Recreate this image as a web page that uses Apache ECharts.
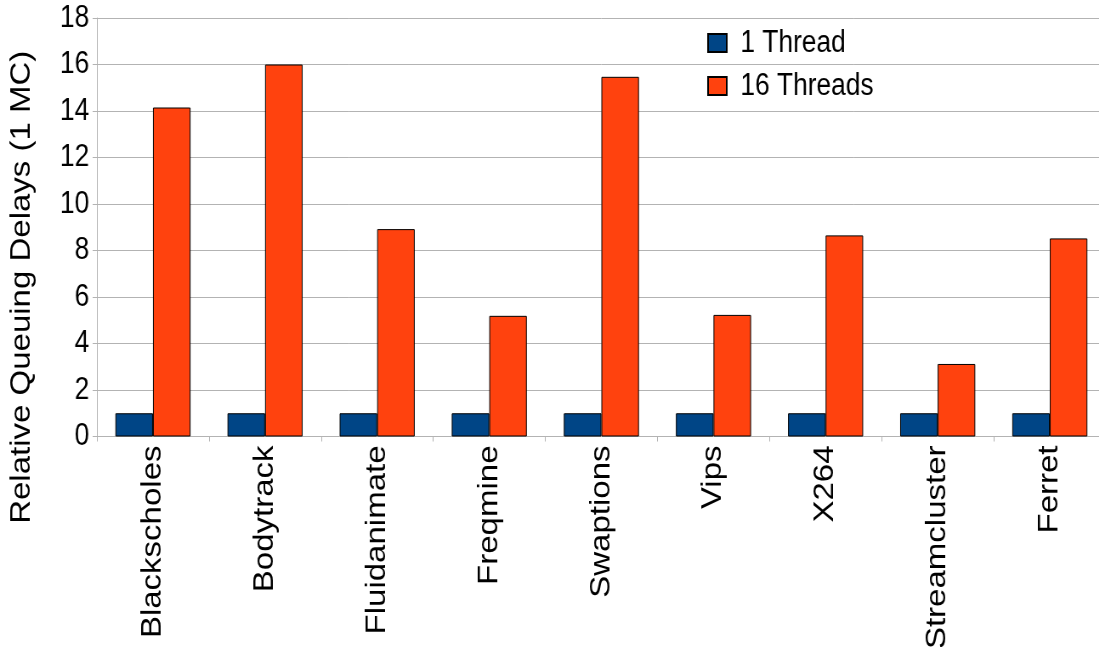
<!DOCTYPE html>
<html>
<head>
<meta charset="utf-8">
<script src="https://cdn.jsdelivr.net/npm/echarts@6/dist/echarts.min.js"></script>
<style>
  html, body { margin: 0; padding: 0; background: #fff; overflow: hidden; }
  #wrap { width: 1099px; height: 647px; overflow: hidden; }
  #c { width: 1320px; height: 647px; transform: scaleX(0.85); transform-origin: 0 0; }
</style>
</head>
<body>
<div id="wrap"><div id="c"></div></div>
<script>
const categories = ['Blackscholes', 'Bodytrack', 'Fluidanimate', 'Freqmine', 'Swaptions', 'Vips', 'X264', 'Streamcluster', 'Ferret'];
const oneThread = [1, 1, 1, 1, 1, 1, 1, 1, 1];
const sixteenThreads = [14.15, 16.0, 8.92, 5.19, 15.47, 5.23, 8.65, 3.12, 8.52];
const seriesNames = ['1 Thread', '16 Threads'];
const yAxisTitle = 'Relative Queuing Delays (1 MC)';

const FONT = '"Liberation Sans", Arial, sans-serif';
const chart = echarts.init(document.getElementById('c'));
chart.setOption({
  animation: false,
  backgroundColor: '#ffffff',
  textStyle: { fontFamily: FONT },
  grid: { left: 114, top: 18, width: 1187, bottom: 210.5, containLabel: false, outerBoundsMode: 'none' },
  legend: {
    orient: 'vertical',
    left: 832, top: 27.5,
    padding: 0,
    icon: 'rect',
    itemWidth: 22, itemHeight: 18, itemGap: 12,
    data: seriesNames,
    textStyle: { fontFamily: FONT, fontSize: 31, color: '#000', lineHeight: 31, padding: [0, 0, 0, 11] }
  },
  xAxis: {
    type: 'category',
    data: categories,
    axisLine: { lineStyle: { color: '#b3b3b3', width: 1 } },
    axisTick: { show: true, length: 5, lineStyle: { color: '#b3b3b3' } },
    axisLabel: { rotate: 90, margin: 9, fontSize: 33, color: '#000', fontFamily: FONT, interval: 0 }
  },
  yAxis: {
    type: 'value',
    min: 0, max: 18, interval: 2,
    name: yAxisTitle,
    nameLocation: 'middle',
    nameGap: 72,
    nameTextStyle: { fontSize: 33, color: '#000', fontFamily: FONT, padding: [0, 120, 0, 0] },
    axisLine: { show: true, lineStyle: { color: '#b3b3b3', width: 1 } },
    axisTick: { show: true, length: 5, lineStyle: { color: '#b3b3b3' } },
    axisLabel: { margin: 9, fontSize: 31, color: '#000', fontFamily: FONT },
    splitLine: { show: true, lineStyle: { color: '#b3b3b3', width: 1 } }
  },
  series: [
    {
      name: seriesNames[0], type: 'bar', data: oneThread,
      barGap: '0%', barCategoryGap: '33%',
      itemStyle: { color: '#004586', borderColor: '#000', borderWidth: 1 }
    },
    {
      name: seriesNames[1], type: 'bar', data: sixteenThreads,
      barGap: '0%', barCategoryGap: '33%',
      itemStyle: { color: '#ff420e', borderColor: '#000', borderWidth: 1 }
    }
  ]
});
</script>
</body>
</html>
